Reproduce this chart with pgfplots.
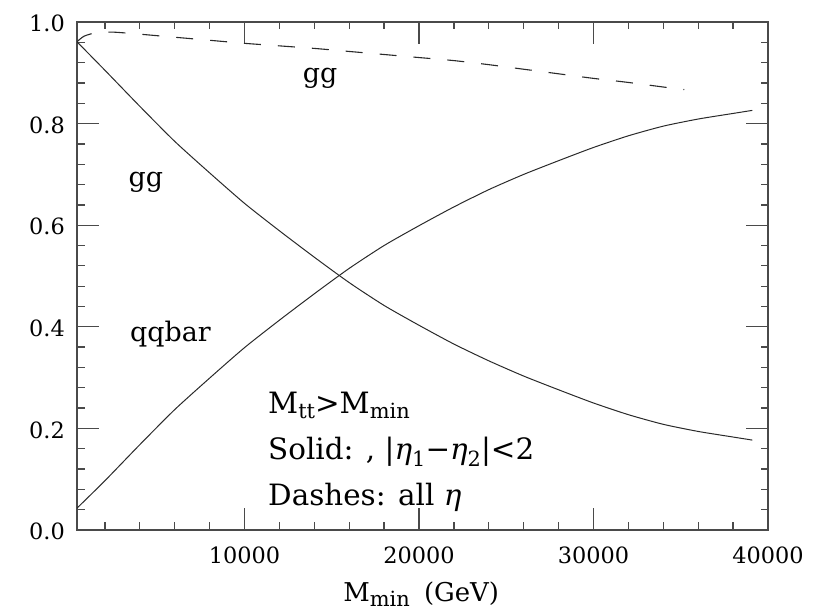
\documentclass[border=0pt]{standalone}
\usepackage{fontspec}
\setmainfont{DejaVu Serif}
\usepackage{pgfplots}
\pgfplotsset{compat=1.18}
\definecolor{axgray}{HTML}{4A4A4A}
\definecolor{curve}{HTML}{2A2A2A}
\newcommand{\subA}[1]{\raisebox{-5bp}{\fontsize{21}{22}\selectfont #1}}
\newcommand{\subB}[1]{\raisebox{-7bp}{\fontsize{21}{22}\selectfont #1}}
\pgfplotstableread{
x y
400 0.961
2000 0.905
4000 0.834
6000 0.765
8000 0.703
10000 0.643
12000 0.589
14000 0.537
16000 0.487
18000 0.442
20000 0.403
22000 0.366
24000 0.333
26000 0.303
28000 0.276
30000 0.250
32000 0.227
34000 0.208
36000 0.194
38000 0.183
39100 0.177
}\ggsolid
\pgfplotstableread{
x y
400 0.043
2000 0.097
4000 0.168
6000 0.237
8000 0.299
10000 0.359
12000 0.413
14000 0.465
16000 0.515
18000 0.560
20000 0.599
22000 0.636
24000 0.670
26000 0.700
28000 0.727
30000 0.753
32000 0.776
34000 0.795
36000 0.809
38000 0.820
39100 0.826
}\qqsolid
\pgfplotstableread{
x y
400 0.961
800 0.972
1500 0.979
2500 0.980
4000 0.976
6000 0.970
8000 0.964
10000 0.958
12000 0.953
14000 0.948
16000 0.942
18000 0.936
20000 0.930
22000 0.924
24000 0.916
26000 0.907
28000 0.898
30000 0.889
32000 0.881
34000 0.872
35200 0.867
}\ggall
\begin{document}
\begin{tikzpicture}
\useasboundingbox (0,0) rectangle (836bp,613bp);
\begin{axis}[
  at={(77bp,83bp)}, anchor=south west,
  scale only axis, width=691bp, height=508bp,
  xmin=400, xmax=40000, ymin=0, ymax=1,
  scaled x ticks=false, scaled y ticks=false,
  xtick={10000,20000,30000,40000},
  xticklabels={10000,20000,30000,40000},
  minor xtick={2000,4000,6000,8000,12000,14000,16000,18000,22000,24000,26000,28000,32000,34000,36000,38000},
  ytick={0,0.2,0.4,0.6,0.8,1.0},
  yticklabels={0.0,0.2,0.4,0.6,0.8,1.0},
  minor ytick={0.04,0.08,0.12,0.16,0.24,0.28,0.32,0.36,0.44,0.48,0.52,0.56,0.64,0.68,0.72,0.76,0.84,0.88,0.92,0.96},
  major tick length=22bp, minor tick length=7.5bp,
  tick align=inside,
  axis line style={axgray, line width=1.6bp},
  tick style={axgray, line width=1.3bp},
  xticklabel style={font=\fontsize{22.5}{24}\selectfont, inner sep=0pt, yshift=-17bp},
  yticklabel style={font=\fontsize{22.5}{24}\selectfont, inner sep=0pt, xshift=-12bp, yshift=-1.5bp},
  xlabel={M\subA{min}\hspace{0.55em}(GeV)},
  xlabel style={at={(axis description cs:0.498,0)}, anchor=base, yshift=-71bp, inner sep=0pt, font=\fontsize{26}{28}\selectfont},
]
\addplot[curve, line width=1bp, smooth, tension=0.4] table[x=x,y=y]{\ggsolid};
\addplot[curve, line width=1bp, smooth, tension=0.4] table[x=x,y=y]{\qqsolid};
\addplot[curve, line width=1.1bp, smooth, tension=0.4, dash pattern=on 17bp off 17bp] table[x=x,y=y]{\ggall};
\node[anchor=base, inner sep=0pt, font=\fontsize{27}{29}\selectfont] at (axis cs:14330,0.881) {gg};
\node[anchor=base, inner sep=0pt, font=\fontsize{27}{29}\selectfont] at (axis cs:4350,0.677) {gg};
\node[anchor=base west, inner sep=0pt, font=\fontsize{27}{29}\selectfont] at (axis cs:3440,0.372) {qqbar};
\node[anchor=base west, inner sep=0pt, font=\fontsize{29.5}{31}\selectfont] at (axis cs:11346,0.2302) {M\subA{tt}>M\subA{min}};
\node[anchor=base west, inner sep=0pt, font=\fontsize{29.5}{31}\selectfont] at (axis cs:11346,0.1397) {Solid: , |\textit{η}\subB{1}−\textit{η}\subB{2}|<2};
\node[anchor=base west, inner sep=0pt, font=\fontsize{29.5}{31}\selectfont] at (axis cs:11346,0.0492) {Dashes: all \textit{η}};
\end{axis}
\end{tikzpicture}
\end{document}
